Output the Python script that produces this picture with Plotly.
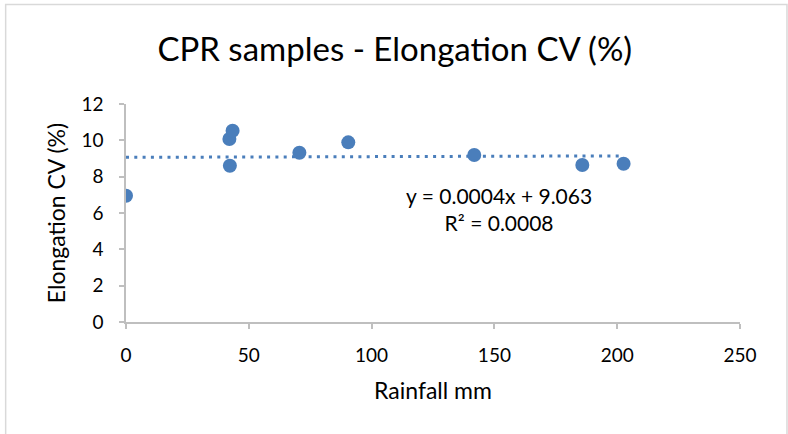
import plotly.graph_objects as go

# Rainfall (mm) vs. elongation coefficient of variation for the CPR samples
rainfall_mm = [0, 42.1, 43.4, 42.3, 70.6, 90.5, 141.8, 185.8, 202.6]
elongation_cv = [6.95, 10.07, 10.53, 8.60, 9.32, 9.89, 9.19, 8.64, 8.71]

# Linear trendline coefficients shown in the equation label
slope = 0.0004
intercept = 9.063
r_squared = 0.0008

x_ticks = [0, 50, 100, 150, 200, 250]
y_ticks = [0, 2, 4, 6, 8, 10, 12]

blue = "#4A7EBB"
axis_gray = "#BFBFBF"
font_family = "Lato, 'Open Sans', sans-serif"

trend_x = [min(rainfall_mm), max(rainfall_mm)]
trend_y = [slope * x + intercept for x in trend_x]

fig = go.Figure()
fig.add_trace(go.Scatter(
    x=trend_x, y=trend_y, mode="lines",
    line=dict(color=blue, width=3, dash="3px,5.3px"),
    hoverinfo="skip", showlegend=False,
))
fig.add_trace(go.Scatter(
    x=rainfall_mm, y=elongation_cv, mode="markers",
    marker=dict(size=14, color=blue, line=dict(width=0)),
    showlegend=False,
))

fig.add_annotation(
    x=0.608, y=0.518, xref="paper", yref="paper",
    text=f"y = {slope}x + {intercept}<br>R² = {r_squared}",
    showarrow=False, align="center",
    font=dict(family=font_family, size=21, color="#000000"),
)

# Chart-area border
fig.add_shape(type="rect", xref="paper", yref="paper",
              x0=-0.196, x1=1.0765, y0=-0.6, y1=1.456,
              line=dict(color="#D9D9D9", width=1.5), fillcolor="rgba(0,0,0,0)",
              layer="below")

fig.update_layout(
    width=788, height=434,
    margin=dict(l=126, r=48, t=104, b=112),
    paper_bgcolor="white", plot_bgcolor="white",
    font=dict(family=font_family, color="#000000"),
    title=dict(text="CPR samples - Elongation CV (%)",
               x=0.501, xref="container", xanchor="center",
               y=0.885, yref="container", yanchor="middle",
               font=dict(size=33, family=font_family, color="#000000")),
    xaxis=dict(
        range=[0, 250], tickvals=x_ticks, showgrid=False, zeroline=False,
        showline=True, linecolor=axis_gray, linewidth=1.5,
        ticks="outside", ticklen=5, tickcolor=axis_gray, tickwidth=1.5,
        tickfont=dict(size=19), ticklabelstandoff=10,
        title=dict(text="Rainfall mm", font=dict(size=23), standoff=18),
    ),
    yaxis=dict(
        range=[0, 12], tickvals=y_ticks, showgrid=False, zeroline=False,
        showline=True, linecolor=axis_gray, linewidth=1.5,
        ticks="outside", ticklen=5, tickcolor=axis_gray, tickwidth=1.5,
        tickfont=dict(size=19), ticklabelstandoff=12,
        title=dict(text="Elongation CV (%)", font=dict(size=23), standoff=9),
    ),
)

fig.write_html("out.html")
